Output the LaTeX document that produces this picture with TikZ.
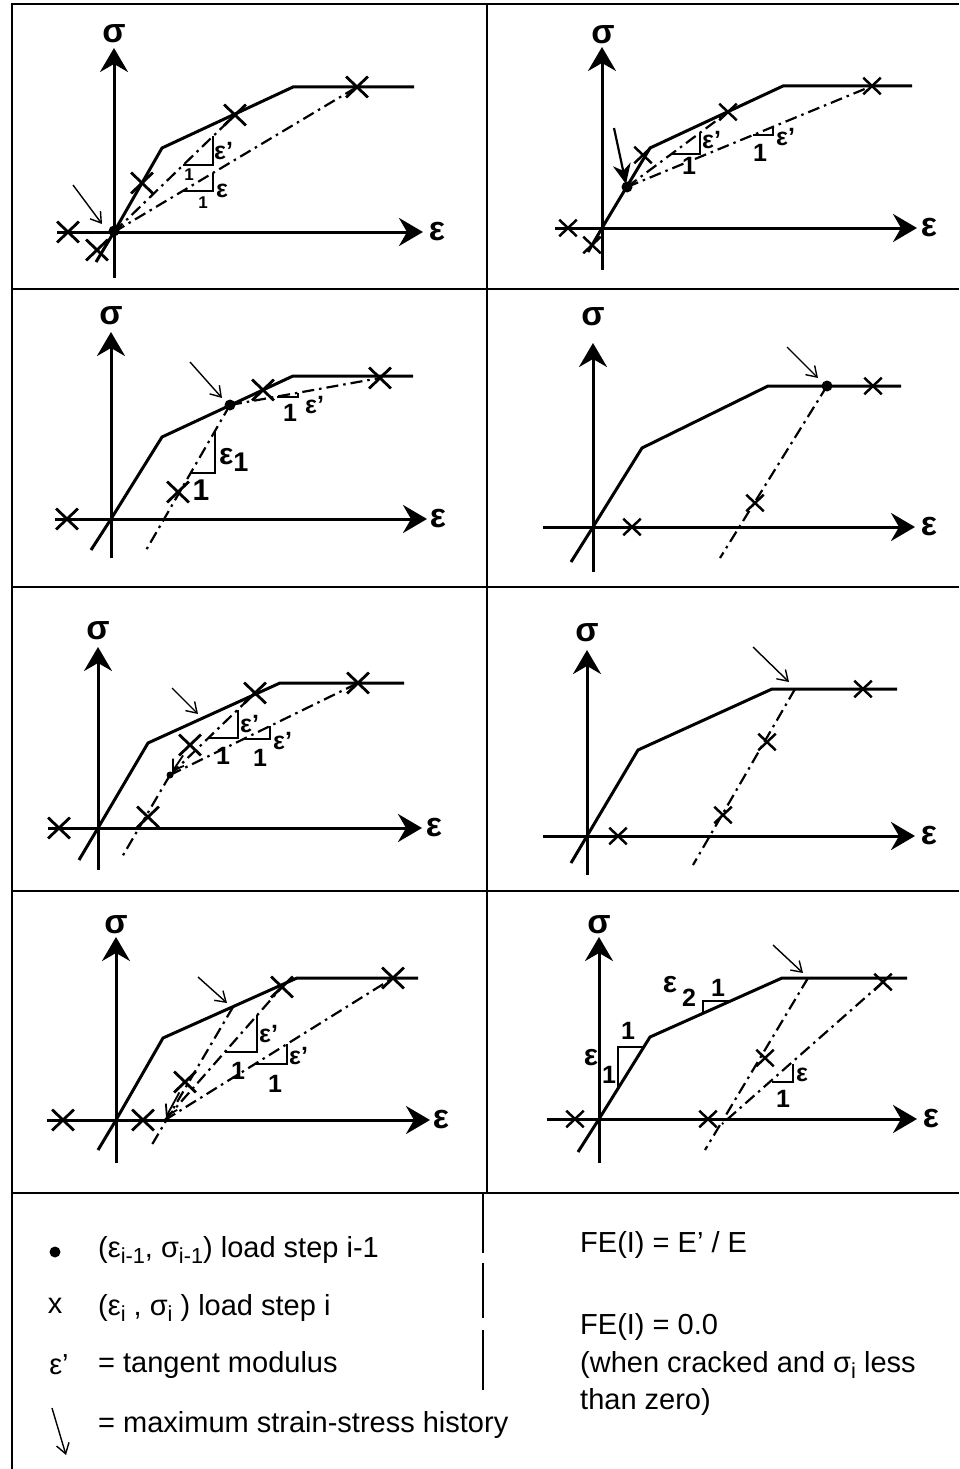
\documentclass[tikz,border=0pt]{standalone}
\usepackage{graphicx}
\usepackage{fontspec}
\setmainfont{Liberation Sans}
\usetikzlibrary{arrows.meta,shapes.misc}
\newcommand\mysub[1]{\raisebox{-0.4ex}{\scalebox{0.75}{#1}}}
\newcommand\mysubb[1]{\raisebox{-0.45ex}{\scalebox{0.9}{#1}}}
\tikzset{
 framel/.style={line width=1.4pt},
 axisarr/.style={line width=3pt,-{Stealth[length=24pt,width=28pt,inset=8pt]}},
 crv/.style={line width=3pt},
 ddash/.style={line width=2.2pt,dash pattern=on 12pt off 5pt on 2.5pt off 5pt},
 tri/.style={line width=2.2pt},
 xm/.style={cross out,draw,line width=2.8pt,minimum width=19pt,minimum height=18pt,inner sep=0pt},
 xsm/.style={cross out,draw,line width=2.5pt,minimum width=15pt,minimum height=14pt,inner sep=0pt},
 dotm/.style={circle,fill,inner sep=0pt,minimum size=11pt},
 ptr/.style={line width=1.4pt,-{Straight Barb[length=10pt,width=13pt]}},
 axlab/.style={font=\fontsize{34}{34}\selectfont\bfseries,inner sep=0pt},
 lab/.style={font=\fontsize{25}{25}\selectfont\bfseries,inner sep=0pt},
 labs/.style={font=\fontsize{17}{17}\selectfont\bfseries,inner sep=0pt},
 labb/.style={font=\fontsize{30}{30}\selectfont\bfseries,inner sep=0pt},
 leg/.style={font=\fontsize{29}{29}\selectfont,inner sep=0pt,anchor=west},
}
\begin{document}
\begin{tikzpicture}[x=1pt,y=-1pt]
\useasboundingbox (0,0) rectangle (959,1469);
\fill[white] (0,0) rectangle (959,1469);
% frame
\draw[framel] (12,1469) -- (12,4) -- (959,4);
\draw[framel] (12,289) -- (959,289);
\draw[framel] (12,587) -- (959,587);
\draw[framel] (12,891) -- (959,891);
\draw[framel] (12,1193) -- (959,1193);
\draw[framel] (487,4) -- (487,1193);
\draw[line width=1.2pt,dash pattern=on 60pt off 10pt on 55pt off 12pt] (483,1193) -- (483,1398);

% ================= Panel 1 =================
\draw[axisarr] (114,278) -- (114,48);
\draw[axisarr] (57,232) -- (423,232);
\node[axlab] (p1s) at (114,34) {σ};
\node[axlab] (p1e) at (437,232) {ε};
\draw[crv] (96,262) -- (114,232) -- (162,148) -- (293,87) -- (414,87);
\draw[ddash] (114,232) -- (235,115);
\draw[ddash] (114,232) -- (357,87);
\draw[tri] (183,165) -- (213,165) -- (213,136);
\draw[tri] (183,191) -- (213,191) -- (213,173);
\node[labs] (p1o1) at (189,175) {1};
\node[lab,anchor=west] (p1t1) at (214,151) {ε’};
\node[labs] (p1o2) at (203,203) {1};
\node[lab,anchor=west] (p1t2) at (216,191) {ε};
\node[xm] (p1x1) at (68,232) {};
\node[xm] (p1x2) at (97,250) {};
\node[xm] (p1x3) at (142,183) {};
\node[xm] (p1x4) at (235,115) {};
\node[xm] (p1x5) at (357,87) {};
\node[dotm] (p1d) at (114,231) {};
\draw[ptr] (73,185) -- (102,224);

% ================= Panel 2 =================
\draw[axisarr] (602,270) -- (602,47);
\draw[axisarr] (555,228) -- (917,228);
\node[axlab] (p2s) at (603,35) {σ};
\node[axlab] (p2e) at (929,228) {ε};
\draw[crv] (588,252) -- (602,228) -- (650,148) -- (783,86) -- (912,86);
\draw[ddash] (627,187) -- (728,112);
\draw[ddash] (627,187) -- (872,86);
\draw[tri] (672,154) -- (700,154) -- (700,133);
\draw[tri] (753,135) -- (773,135) -- (773,127);
\node[lab] (p2o1) at (689,166) {1};
\node[lab,anchor=west] (p2t1) at (702,140) {ε’};
\node[lab] (p2o2) at (760,153) {1};
\node[lab,anchor=west] (p2t2) at (776,137) {ε’};
\node[xsm] (p2x1) at (568,228) {};
\node[xsm] (p2x2) at (592,245) {};
\node[xsm] (p2x3) at (643,155) {};
\node[xsm] (p2x4) at (728,112) {};
\node[xsm] (p2x5) at (872,86) {};
\node[dotm] (p2d) at (627,187) {};
\draw[line width=2.2pt,-{Stealth[length=20pt,width=18pt]}] (614,128) -- (626,184);

% ================= Panel 3 =================
\draw[axisarr] (111,558) -- (111,332);
\draw[axisarr] (55,519) -- (427,519);
\node[axlab] (p3s) at (111,316) {σ};
\node[axlab] (p3e) at (438,519) {ε};
\draw[crv] (91,550) -- (111,519) -- (162,437) -- (293,376) -- (413,376);
\draw[ddash] (230,405) -- (145,552);
\draw[ddash] (230,405) -- (380,378);
\draw[tri] (191,473) -- (215,473) -- (215,431);
\draw[tri] (277,397) -- (298,397) -- (298,393);
\node[labb] (p3o1) at (201,490) {1};
\node[labb,anchor=west] (p3t1) at (219,460) {ε\mysubb{1}};
\node[lab] (p3o2) at (290,413) {1};
\node[lab,anchor=west] (p3t2) at (305,405) {ε’};
\node[xm] (p3x1) at (67,519) {};
\node[xm] (p3x2) at (178,492) {};
\node[xm] (p3x3) at (263,390) {};
\node[xm] (p3x4) at (380,378) {};
\node[dotm] (p3d) at (230,405) {};
\draw[ptr] (190,362) -- (222,398);

% ================= Panel 4 =================
\draw[axisarr] (593,572) -- (593,343);
\draw[axisarr] (543,527) -- (915,527);
\node[axlab] (p4s) at (593,317) {σ};
\node[axlab] (p4e) at (929,527) {ε};
\draw[crv] (571,562) -- (593,527) -- (642,448) -- (768,386) -- (901,386);
\draw[ddash] (827,386) -- (720,558);
\node[xsm] (p4x1) at (632,527) {};
\node[xsm] (p4x2) at (755,503) {};
\node[xsm] (p4x3) at (873,386) {};
\node[dotm] (p4d) at (827,386) {};
\draw[ptr] (787,347) -- (818,378);

% ================= Panel 5 =================
\draw[axisarr] (98,870) -- (98,647);
\draw[axisarr] (48,828) -- (422,828);
\node[axlab] (p5s) at (98,631) {σ};
\node[axlab] (p5e) at (434,828) {ε};
\draw[crv] (79,860) -- (98,828) -- (148,743) -- (280,683) -- (404,683);
\draw[ddash] (170,775) -- (122,857);
\draw[ddash] (170,775) -- (255,693);
\draw[ddash] (170,775) -- (358,683);
\draw[tri] (208,738) -- (238,738) -- (238,710);
\draw[tri] (243,739) -- (270,739) -- (270,726);
\node[lab] (p5o1) at (223,756) {1};
\node[lab,anchor=west] (p5t1) at (240,724) {ε’};
\node[lab] (p5o2) at (260,758) {1};
\node[lab,anchor=west] (p5t2) at (273,741) {ε’};
\node[xm] (p5x1) at (59,828) {};
\node[xm] (p5x2) at (148,817) {};
\node[xm] (p5x3) at (190,745) {};
\node[xm] (p5x4) at (255,693) {};
\node[xm] (p5x5) at (358,683) {};
\node[dotm,minimum size=7pt] (p5d) at (170,775) {};
\draw[ptr,line width=1.8pt] (p5x3) -- (p5d);
\draw[ptr] (172,688) -- (198,714);

% ================= Panel 6 =================
\draw[axisarr] (587,875) -- (587,650);
\draw[axisarr] (543,836) -- (915,836);
\node[axlab] (p6s) at (587,633) {σ};
\node[axlab] (p6e) at (929,836) {ε};
\draw[crv] (571,863) -- (587,836) -- (638,750) -- (772,689) -- (897,689);
\draw[ddash] (795,689) -- (693,865);
\node[xsm] (p6x1) at (618,836) {};
\node[xsm] (p6x2) at (723,815) {};
\node[xsm] (p6x3) at (767,742) {};
\node[xsm] (p6x4) at (863,689) {};
\draw[ptr] (753,647) -- (789,682);

% ================= Panel 7 =================
\draw[axisarr] (116,1163) -- (116,937);
\draw[axisarr] (47,1120) -- (430,1120);
\node[axlab] (p7s) at (116,925) {σ};
\node[axlab] (p7e) at (441,1120) {ε};
\draw[crv] (98,1150) -- (116,1120) -- (163,1038) -- (297,978) -- (418,978);
\draw[ddash] (233,1007) -- (150,1148);
\draw[ddash] (165,1120) -- (282,987);
\draw[ddash] (165,1120) -- (393,978);
\draw[tri] (225,1052) -- (257,1052) -- (257,1015);
\draw[tri] (255,1064) -- (287,1064) -- (287,1044);
\node[lab] (p7o1) at (238,1071) {1};
\node[lab,anchor=west] (p7t1) at (259,1034) {ε’};
\node[lab] (p7o2) at (275,1084) {1};
\node[lab,anchor=west] (p7t2) at (289,1056) {ε’};
\node[xm] (p7x1) at (63,1120) {};
\node[xm] (p7x2) at (143,1120) {};
\node[xm] (p7x3) at (185,1082) {};
\node[xm] (p7x4) at (282,987) {};
\node[xm] (p7x5) at (393,978) {};
\coordinate (p7u) at (166,1117);
\draw[ptr,line width=1.8pt] (p7x3) -- (p7u);
\draw[ptr] (198,977) -- (227,1003);

% ================= Panel 8 =================
\draw[axisarr] (599,1163) -- (599,937);
\draw[axisarr] (547,1119) -- (917,1119);
\node[axlab] (p8s) at (599,925) {σ};
\node[axlab] (p8e) at (931,1119) {ε};
\draw[crv] (578,1152) -- (599,1119) -- (650,1037) -- (782,978) -- (907,978);
\draw[ddash] (808,978) -- (705,1150);
\draw[ddash] (883,982) -- (722,1124);
\draw[tri] (644,1047) -- (618,1047) -- (618,1088);
\draw[tri] (703,1013) -- (703,1001) -- (731,1001);
\draw[tri] (772,1082) -- (793,1082) -- (793,1064);
\node[lab] (p8o1) at (628,1031) {1};
\node[labb] (p8t1) at (591,1058) {ε};
\node[lab] (p8t1s) at (609,1075) {1};
\node[lab] (p8o2) at (718,988) {1};
\node[labb] (p8t2) at (670,985) {ε};
\node[lab] (p8t2s) at (689,998) {2};
\node[lab] (p8o3) at (783,1099) {1};
\node[lab,anchor=west] (p8t3) at (796,1075) {ε};
\node[xsm] (p8x1) at (575,1119) {};
\node[xsm] (p8x2) at (708,1119) {};
\node[xsm] (p8x3) at (765,1058) {};
\node[xsm] (p8x4) at (883,982) {};
\draw[ptr] (773,945) -- (803,973);

% ================= Legend =================
\node[dotm] (lgd) at (55,1252) {};
\node[leg] (lg1) at (98,1250) {(ε\mysub{i-1}, σ\mysub{i-1}) load step i-1};
\node[leg,anchor=center] (lgx) at (55,1306) {x};
\node[leg] (lg2) at (98,1308) {(ε\mysub{i} , σ\mysub{i} ) load step i};
\node[leg,anchor=center] (lge) at (59,1365) {ε’};
\node[leg] (lg3) at (98,1365) {= tangent modulus};
\coordinate (lga) at (52,1408);
\coordinate (lgb) at (66,1455);
\draw[ptr] (lga) -- (lgb);
\node[leg] (lg4) at (98,1425) {= maximum strain-stress history};
\node[leg] (lg5) at (580,1245) {FE(I) = E’ / E};
\node[leg] (lg6) at (580,1327) {FE(I) = 0.0};
\node[leg] (lg7) at (580,1365) {(when cracked and σ\mysub{i} less};
\node[leg] (lg8) at (580,1402) {than zero)};
\end{tikzpicture}
\end{document}
